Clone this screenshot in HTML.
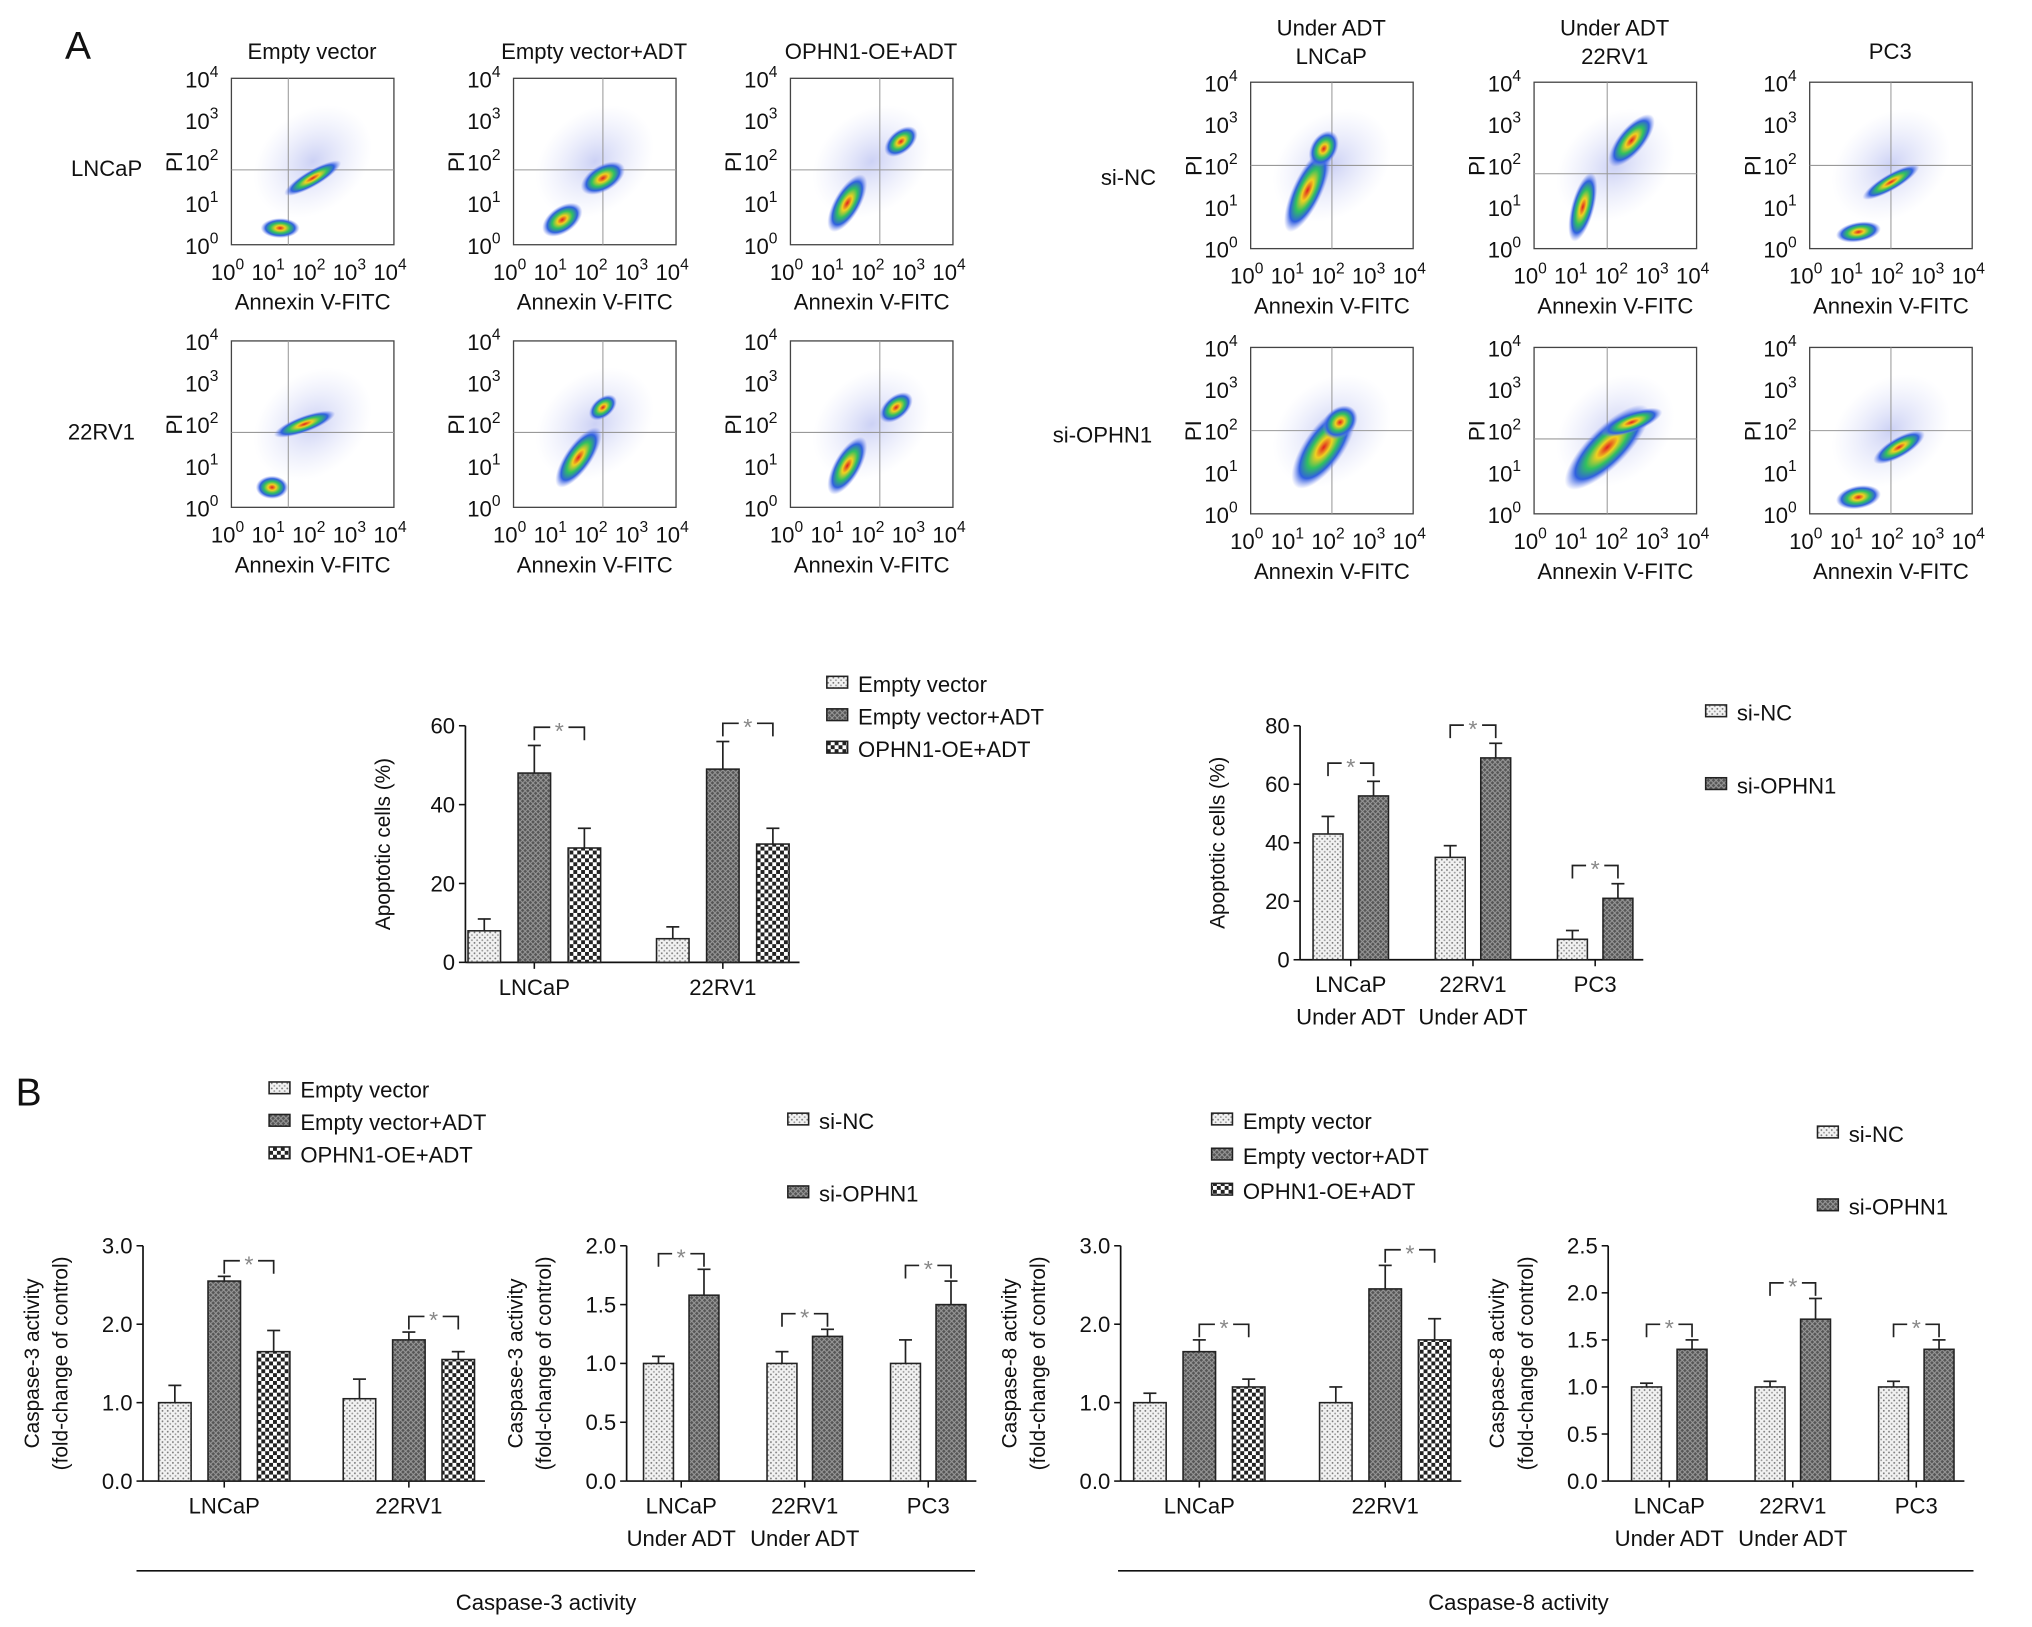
<!DOCTYPE html>
<html><head><meta charset="utf-8"><style>
html,body{margin:0;padding:0;background:#fff}
svg{display:block;font-family:"Liberation Sans",Arial,sans-serif}
</style></head><body>
<svg id="fig" width="2032" height="1627" viewBox="0 0 1563 1251" xmlns="http://www.w3.org/2000/svg">
<defs>
<pattern id="pDot" width="4" height="4" patternUnits="userSpaceOnUse"><rect width="4" height="4" fill="#f2f2f2"/><circle cx="1" cy="1" r="0.7" fill="#777"/><circle cx="3" cy="3" r="0.7" fill="#999"/></pattern>
<pattern id="pDark" width="4" height="4" patternUnits="userSpaceOnUse"><rect width="4" height="4" fill="#555"/><path d="M0 0L4 4M4 0L0 4" stroke="#999" stroke-width="0.8"/></pattern>
<pattern id="pCheck" width="6" height="6" patternUnits="userSpaceOnUse"><rect width="6" height="6" fill="#fff"/><rect width="3" height="3" fill="#222"/><rect x="3" y="3" width="3" height="3" fill="#222"/></pattern>
<radialGradient id="gBlob"><stop offset="0" stop-color="#e02020"/><stop offset="0.25" stop-color="#f0d020"/><stop offset="0.5" stop-color="#30c060"/><stop offset="0.75" stop-color="#3060e0"/><stop offset="1" stop-color="#8090f0" stop-opacity="0"/></radialGradient>
<radialGradient id="gCloud"><stop offset="0" stop-color="#5566dd" stop-opacity="0.3"/><stop offset="1" stop-color="#99a4ee" stop-opacity="0"/></radialGradient>
</defs>
<g id="root"></g>
</svg>
<script>
// ---- bar chart data ----
const catsA1 = [["LNCaP"],["22RV1"]];
const valsA1 = [[8,6],[48,49],[29,30]];
const errsA1 = [[3,3],[7,7],[5,4]];
const catsA2 = [["LNCaP","Under ADT"],["22RV1","Under ADT"],["PC3"]];
const valsA2 = [[43,35,7],[56,69,21]];
const errsA2 = [[6,4,3],[5,5,5]];
const catsB1 = [["LNCaP"],["22RV1"]];
const valsB1 = [[1.0,1.05],[2.55,1.8],[1.65,1.55]];
const errsB1 = [[0.22,0.25],[0.06,0.1],[0.27,0.1]];
const catsB2 = [["LNCaP","Under ADT"],["22RV1","Under ADT"],["PC3"]];
const valsB2 = [[1.0,1.0,1.0],[1.58,1.23,1.5]];
const errsB2 = [[0.06,0.1,0.2],[0.22,0.06,0.2]];
const catsB3 = [["LNCaP"],["22RV1"]];
const valsB3 = [[1.0,1.0],[1.65,2.45],[1.2,1.8]];
const errsB3 = [[0.12,0.2],[0.15,0.3],[0.1,0.27]];
const catsB4 = [["LNCaP","Under ADT"],["22RV1","Under ADT"],["PC3"]];
const valsB4 = [[1.0,1.0,1.0],[1.4,1.72,1.4]];
const errsB4 = [[0.04,0.06,0.06],[0.1,0.22,0.1]];

const NS="http://www.w3.org/2000/svg";
const root=document.getElementById('root');
function el(tag,attrs,parent,txt){const e=document.createElementNS(NS,tag);for(const k in attrs)e.setAttribute(k,attrs[k]);if(txt!==undefined)e.textContent=txt;(parent||root).appendChild(e);return e;}
function text(x,y,s,size,parent,anchor,extra){const t=el('text',Object.assign({x:x,y:y,'font-size':size,'text-anchor':anchor||'middle',fill:'#111'},extra||{}),parent,s);return t;}

let t=text(50,45,"A",30,root,'start');
t=text(12,850,"B",30,root,'start');

// ---- flow cytometry panels ----
const flowX=[178,395,608,962,1180,1392];
const flowY=[[60,262],[60,262],[60,262],[63,267],[63,267],[63,267]];
const flowTitles=[["Empty vector"],["Empty vector+ADT"],["OPHN1-OE+ADT"],["Under ADT","LNCaP"],["Under ADT","22RV1"],["PC3"]];
const blobs=[
 [[[0.3,0.9,0.12,0.06,0],[0.5,0.6,0.2,0.05,-30]],[[0.25,0.88,0.1,0.07,0],[0.45,0.5,0.2,0.05,-20]]],
 [[[0.3,0.85,0.14,0.08,-35],[0.55,0.6,0.15,0.08,-30]],[[0.4,0.7,0.22,0.08,-55],[0.55,0.4,0.1,0.06,-40]]],
 [[[0.35,0.75,0.2,0.08,-60],[0.68,0.38,0.12,0.07,-40]],[[0.35,0.75,0.2,0.08,-60],[0.65,0.4,0.12,0.07,-40]]],
 [[[0.35,0.65,0.28,0.09,-65],[0.45,0.4,0.12,0.08,-60]],[[0.45,0.6,0.3,0.12,-55],[0.55,0.45,0.12,0.09,-40]]],
 [[[0.3,0.75,0.22,0.07,-75],[0.6,0.35,0.2,0.08,-50]],[[0.45,0.6,0.35,0.12,-45],[0.6,0.45,0.2,0.06,-20]]],
 [[[0.3,0.9,0.14,0.06,-10],[0.5,0.6,0.2,0.05,-30]],[[0.3,0.9,0.14,0.07,-10],[0.55,0.6,0.18,0.06,-30]]]
];
const quadV=[[0.35,0.55],[0.55,0.55],[0.55,0.55],[0.5,0.5],[0.45,0.55],[0.5,0.5]];
const supers=["0","1","2","3","4"];
for(let c=0;c<6;c++){
 for(let r=0;r<2;r++){
  const x0=flowX[c],y0=flowY[c][r],w=125,h=128;
  const g=el('g',{});
  
  
  el('rect',{x:x0,y:y0,width:w,height:h,fill:'#fff',stroke:'#444','stroke-width':1},g);
  el('ellipse',{cx:x0+w*0.5,cy:y0+h*0.5,rx:w*0.4,ry:h*0.3,fill:'url(#gCloud)',transform:`rotate(-40 ${x0+w*0.5} ${y0+h*0.5})`},g);
  const q=quadV[c];
  el('line',{x1:x0+w*q[0],x2:x0+w*q[0],y1:y0,y2:y0+h,stroke:'#999','stroke-width':0.8},g);
  el('line',{x1:x0,x2:x0+w,y1:y0+h*q[1],y2:y0+h*q[1],stroke:'#999','stroke-width':0.8},g);
  for(const b of blobs[c][r]){const cx=x0+w*b[0],cy=y0+h*b[1];
   el('ellipse',{cx:cx,cy:cy,rx:w*b[2],ry:h*b[3],fill:'url(#gBlob)',transform:`rotate(${b[4]} ${cx} ${cy})`},g);}
  for(let i=0;i<5;i++){
   const ty=y0+h-i*h/4;
   const tt=text(x0-10,ty+7,"10",17,g,'end');el('tspan',{dy:-8,'font-size':12},tt,supers[i]);
   const tx=x0+i*w/4;
   const tx2=text(tx-3,y0+h+27,"10",17,g,'middle');el('tspan',{dy:-8,'font-size':12},tx2,supers[i]);
  }
  text(x0+w/2,y0+h+50,"Annexin V-FITC",17,g);
  text(x0-44,y0+h/2,"PI",17,g,'middle',{transform:`rotate(-90 ${x0-44} ${y0+h/2})`,dy:6});
 }
 const tl=flowTitles[c];
 tl.forEach((s,i)=>{const tt=text(flowX[c]+62,(tl.length===1?45:27)+i*22,s,17);});
}
[["LNCaP",82,135],["22RV1",78,338],["si-NC",868,142],["si-OPHN1",848,340]].forEach(a=>{const tt=text(a[1],a[2],a[0],17);});

// ---- bar chart helper ----
function barChart(name,cfg){
 const g=el('g',{});
 
 
 const ys=v=>cfg.y0-(v/cfg.max)*(cfg.y0-cfg.y1);
 const nS=cfg.vals.length,nC=cfg.cats.length;
 const xs=(ci,si)=>cfg.gx0+ci*cfg.gstep+si*cfg.bstep;
 el('line',{x1:cfg.ax,x2:cfg.ax,y1:cfg.y1,y2:cfg.y0,stroke:'#111','stroke-width':1.3},g);
 const xEnd=xs(nC-1,nS-1)+cfg.bw+8;
 el('line',{x1:cfg.ax,x2:xEnd,y1:cfg.y0,y2:cfg.y0,stroke:'#111','stroke-width':1.3},g);
 for(let v=0;v<=cfg.max+1e-9;v+=cfg.step){
  const y=ys(v);el('line',{x1:cfg.ax-5,x2:cfg.ax,y1:y,y2:y,stroke:'#111','stroke-width':1.2},g);
  text(cfg.ax-8,y+6,cfg.fmt?v.toFixed(1):String(v),17,g,'end');
 }
 cfg.cats.forEach((c,ci)=>{
  const cx=(xs(ci,0)+xs(ci,nS-1)+cfg.bw)/2;
  el('line',{x1:cx,x2:cx,y1:cfg.y0,y2:cfg.y0+5,stroke:'#111','stroke-width':1.2},g);
  c.forEach((s,li)=>text(cx,cfg.y0+25+li*25,s,17,g));
 });
 const n=cfg.ylab.length;
 cfg.ylab.forEach((s,i)=>{const x=cfg.ax-(n===1?58:80)+i*22,y=(cfg.y0+cfg.y1)/2;text(x,y,s,16,g,'middle',{transform:`rotate(-90 ${x} ${y})`});});
 for(let si=0;si<nS;si++)for(let ci=0;ci<nC;ci++){
  const v=cfg.vals[si][ci],e=cfg.errs[si][ci],x=xs(ci,si),cx=x+cfg.bw/2;
  const b=el('rect',{x:x,y:ys(v),width:cfg.bw,height:cfg.y0-ys(v),fill:'url(#'+cfg.pats[si]+')',stroke:'#222','stroke-width':1.2},g);
  
  
  el('line',{x1:cx,x2:cx,y1:ys(v),y2:ys(v+e),stroke:'#222','stroke-width':1.3},g);
  el('line',{x1:cx-5,x2:cx+5,y1:ys(v+e),y2:ys(v+e),stroke:'#222','stroke-width':1.3},g);
 }
 for(let ci=0;ci<nC;ci++){
  const a=nS-2,b=nS-1;
  let top=0;for(let si=a;si<=b;si++)top=Math.max(top,cfg.vals[si][ci]+cfg.errs[si][ci]);
  const yb=ys(top)-cfg.bo;
  const x1=xs(ci,a)+cfg.bw/2,x2=xs(ci,b)+cfg.bw/2,mx=(x1+x2)/2;
  el('path',{d:`M${x1} ${yb+10}V${yb}H${mx-7}M${mx+7} ${yb}H${x2}V${yb+10}`,fill:'none',stroke:'#222','stroke-width':1.3},g);
  const st=text(mx,yb+9,"*",18,g,'middle',{fill:'#888'});
  
 }
 return g;
}
function legend(name,x,y,items,pats,dy){
 const g=el('g',{});
 
 
 items.forEach((s,i)=>{const yy=y+i*dy;
  el('rect',{x:x,y:yy-7,width:16,height:9,fill:'url(#'+pats[i]+')',stroke:'#222','stroke-width':1.2},g);
  text(x+24,yy+5,s,17,g,'start');});
}
const p3=['pDot','pDark','pCheck'],p2=['pDot','pDark'];
barChart('chart-apoptosis-oe',{ax:358,y0:740,y1:558,max:60,step:20,gx0:360,gstep:145,bstep:38.5,bw:25,cats:catsA1,vals:valsA1,errs:errsA1,pats:p3,ylab:["Apoptotic cells (%)"],bo:14});
legend('legend-apoptosis-oe',636,527,["Empty vector","Empty vector+ADT","OPHN1-OE+ADT"],p3,25);
barChart('chart-apoptosis-si',{ax:1000,y0:738,y1:558,max:80,step:20,gx0:1010,gstep:94,bstep:35,bw:23,cats:catsA2,vals:valsA2,errs:errsA2,pats:p2,ylab:["Apoptotic cells (%)"],bo:14});
legend('legend-apoptosis-si',1312,549,["si-NC","si-OPHN1"],p2,56);
barChart('chart-caspase3-oe',{ax:110,y0:1139,y1:958,max:3,step:1,fmt:1,gx0:122,gstep:142,bstep:38,bw:25,cats:catsB1,vals:valsB1,errs:errsB1,pats:p3,ylab:["Caspase-3 activity","(fold-change of control)"],bo:12});
legend('legend-caspase3-oe',207,839,["Empty vector","Empty vector+ADT","OPHN1-OE+ADT"],p3,25);
barChart('chart-caspase3-si',{ax:482,y0:1139,y1:958,max:2,step:0.5,fmt:1,gx0:495,gstep:95,bstep:35,bw:23,cats:catsB2,vals:valsB2,errs:errsB2,pats:p2,ylab:["Caspase-3 activity","(fold-change of control)"],bo:12});
legend('legend-caspase3-si',606,863,["si-NC","si-OPHN1"],p2,56);
barChart('chart-caspase8-oe',{ax:862,y0:1139,y1:958,max:3,step:1,fmt:1,gx0:872,gstep:143,bstep:38,bw:25,cats:catsB3,vals:valsB3,errs:errsB3,pats:p3,ylab:["Caspase-8 activity","(fold-change of control)"],bo:12});
legend('legend-caspase8-oe',932,863,["Empty vector","Empty vector+ADT","OPHN1-OE+ADT"],p3,27);
barChart('chart-caspase8-si',{ax:1237,y0:1139,y1:958,max:2.5,step:0.5,fmt:1,gx0:1255,gstep:95,bstep:35,bw:23,cats:catsB4,vals:valsB4,errs:errsB4,pats:p2,ylab:["Caspase-8 activity","(fold-change of control)"],bo:12});
legend('legend-caspase8-si',1398,873,["si-NC","si-OPHN1"],p2,56);
el('line',{x1:105,x2:750,y1:1208,y2:1208,stroke:'#111','stroke-width':1.3});
t=text(420,1238,"Caspase-3 activity",17);
el('line',{x1:860,x2:1518,y1:1208,y2:1208,stroke:'#111','stroke-width':1.3});
t=text(1168,1238,"Caspase-8 activity",17);
</script>
</body></html>
